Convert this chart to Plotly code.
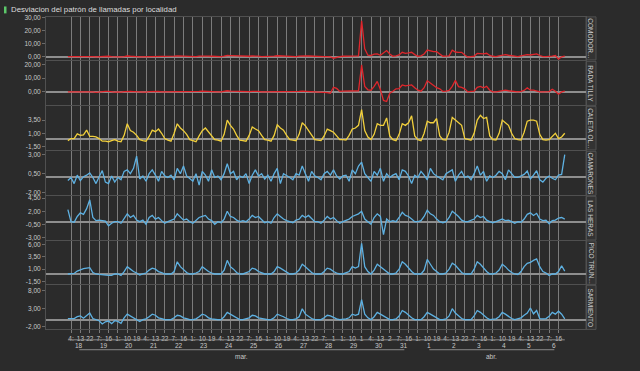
import plotly.graph_objects as go
import pandas as pd

# ---------------- data (3-hourly, 18 mar 01:00 -> 6 abr 22:00) ----------------
START = "2020-03-18 01:00"
N_POINTS = 160

comodoro = [
    0, 0, 0.2, 0.3, 0.2, 0.5, 0.3, 0,
    0, -0.2, 0, 0.3, 0.2, 0.2, 0, -0.2,
    -0.3, -0.3, 0, 0.4, 0.2, 0.3, 0, -0.2,
    -0.2, -0.2, 0.2, 0.3, 0.3, 0.2, 0, 0,
    0, -0.2, 0.3, 0.5, 0.4, 0.3, 0, 0,
    0, 0, 0.3, 0.5, 0.4, 0.3, 0.2, 0,
    0, 0, 0.3, 0.8, 0.7, 0.6, 0.3, 0,
    0, -0.2, 0.2, 0.4, 0.5, 0.3, 0, 0,
    0, 0, 0.3, 0.6, 0.5, 0.3, 0, 0,
    0, 0, 0.3, 0.6, 0.5, 0.4, 0.2, 0,
    0, 0, 0, 0, -0.3, -1.3, -0.5, 0,
    0.2, 0.2, 0.2, 0.3, 0.3, 0.5, 27.7, 6,
    1.0, 0.8, 1.8, 2, 1, 3, 4.6, 2,
    0.2, 0.5, 1.2, 3.3, 2.5, 2.8, 3.3, 1.5,
    0.2, 0.5, 2, 5, 4.2, 3.8, 3.8, 2,
    0.2, 0.3, 0.5, 5, 3.5, 3.3, 3.3, 1.2,
    -0.5, 0, 0.2, 2.5, 2.2, 2, 2.5, 0.8,
    0.2, 0, 0.5, 1.2, 1.5, 1, 0.8, 0.3,
    0, 0.5, 0.8, 1.5, 1.2, 1.8, 2, 0.8,
    0, 0, 0, 0.3, 0.8, -2, -0.2, 0.3,
]
rada_tilly = [
    0, 0, 0.3, 0.5, 0.3, 0.5, 0.2, 0,
    0, -0.3, 0, 0.5, 0.3, 0.3, 0, -0.2,
    0, -0.2, 0.2, 0.5, 0.3, 0.2, 0, 0,
    0, -0.2, 0.2, 0.4, 0.3, 0.3, 0, 0,
    0, 0, 0.3, 0.5, 0.4, 0.3, 0, 0,
    0, 0, 0.3, 0.6, 0.4, 0.3, 0.2, 0,
    0, 0, 0.4, 0.8, 0.6, 0.5, 0.2, 0,
    0, -0.2, 0.2, 0.4, 0.5, 0.3, 0, 0,
    0, 0, 0.3, 0.5, 0.4, 0.3, 0, 0,
    0, 0, 0.4, 0.6, 0.5, 0.4, 0.2, 0,
    0, 0, 0, -0.5, -1, 3.3, 2.5, 0.3,
    0.5, 0.5, 0.5, 0.5, 0.5, 0.8, 19.5, 4,
    1.5, 1.2, 4, 7.6, 1.7, -6.2, -7, -1,
    0.5, 2.2, 2.4, 5, 4.3, 4.5, 5, 3,
    1.2, 0.5, 3, 8, 6.4, 4.2, 3, 2.2,
    0.3, 0.5, 1, 4, 8.3, 3.8, 3.3, 2.2,
    0, 0.3, 0.5, 3.3, 4, 3, 4, 1.2,
    0, 0, 0.3, 1, 1.2, 0.8, 0.5, 0,
    0, 0.3, 1, 2.9, 1.2, 1.2, 0.5, 0,
    0, 0, 0.2, 1.9, 0.5, -1.7, 0, 0.5,
]
caleta = [
    -0.4, 0, 0, 0.9, 0.6, 0.7, 1.6, 0.4,
    0.4, 0.3, 0, -0.5, -0.5, -0.6, -0.4, -0.2,
    -0.5, -0.6, 0.6, 2.8, 1.5, 1.2, 0.6, -0.2,
    -0.4, -0.5, 0.4, 1.6, 1.3, 1.8, 1.0, 0.0,
    -0.3, -0.5, 1.0, 2.8, 2.0, 1.5, 0.8, -0.2,
    -0.4, -0.6, 0.5, 1.5, 2.0, 1.2, 0.6, -0.2,
    -0.3, -0.5, 0.8, 3.5, 2.5, 1.8, 0.6, -0.3,
    -0.4, -0.5, 0.6, 2.2, 1.8, 1.5, 0.6, -0.2,
    -0.3, -0.5, 0.6, 2.6, 2.0, 1.6, 0.6, -0.2,
    -0.3, -0.4, 0.8, 3.0, 2.4, 1.5, 0.6, -0.2,
    -0.3, -0.4, 0.5, 1.8, 1.5, 1.2, 0.5, -0.2,
    -0.2, -0.3, 0.6, 1.8, 2.0, 2.5, 5.5, 1.5,
    0.3, -0.2, 0.8, 2.8, 2.5, 2.5, 3.9, 0.5,
    -0.2, -0.4, 0.8, 2.8, 2.5, 3.0, 4.3, 0.5,
    -0.2, -0.4, 1.0, 3.3, 3.0, 3.0, 3.8, 0.5,
    -0.2, -0.3, 1.2, 4.0, 3.5, 3.0, 2.5, 0.0,
    -0.2, -0.3, 1.0, 3.5, 4.4, 3.8, 4.0, 0.5,
    -0.2, -0.3, 1.0, 3.5, 3.0, 2.5, 1.0, 0.0,
    -0.2, -0.3, 1.2, 3.3, 3.5, 3.5, 3.3, 0.8,
    -0.2, -0.3, -0.2, 0.4, 1.0, 0.0, 0.3, 1.0,
]
camarones = [
    -0.4, 0, -0.8, 0.3, -0.4, 0.1, 0.3, 0.6,
    0, -0.8, 0.1, 0.9, -0.6, -0.8, 0.2, -0.6,
    0, -0.3, 0.8, 1.0, 0.5, 1.2, 2.8, -0.2,
    0.2, -0.5, 0.5, 1.0, 0.3, -0.5, 0.8, 0.2,
    0, 0.3, -0.3, 1.2, 0.5, 1.5, 0.2, -0.2,
    -0.5, 0.5, -1.0, 0.8, 0.3, -0.5, 1.0, 0,
    0.2, -0.3, 0.5, 1.8, 0.5, 0.8, -0.3, 0.2,
    0, 0.5, -0.8, 0.3, 1.0, 0.2, 0.5, -0.2,
    0.3, -0.5, 0.5, 1.2, -0.8, 0.5, 0.3, 0,
    -0.3, 0.5, 0.3, 1.5, 0.5, -0.5, 0.8, 0.2,
    0, -0.3, 0.5, 0.8, 0.3, 1.0, 0.2, -0.2,
    0.2, 0.3, -0.5, 1.0, 0.5, 1.5, 2.0, 0.5,
    0, -0.5, 0.8, 0.3, 1.2, -0.5, 0.5, 0,
    0.3, 0.5, -0.3, 1.0, 0.8, 0.2, -0.8, 0.3,
    0, 0.8, 0.3, -0.3, 1.2, 0.5, 0.2, 0,
    -0.3, 0.5, 0.8, 1.0, -0.5, 0.3, 0.8, 0,
    0.2, -0.3, 0.5, 1.5, 0.3, 0.8, -0.5, 0.2,
    0, 0.3, 0.8, 0.5, -0.3, 1.0, 0.5, 0,
    0, 0.2, 0.4, 0.85, -0.2, 0.3, 0.9, -0.3,
    -0.6, -0.1, 0.2, -0.1, -0.3, 0.3, 0.4, 3.0,
]
las_heras = [
    2.3, 0, -0.1, 1.0, 1.7, 1.4, 2.5, 4.2,
    0.8, 0.2, 0.3, 0.2, 0.1, -0.8, -0.3, 0,
    0, -0.3, 0.5, 1.5, 0.8, 1.2, 0.3, 0,
    0.3, -0.5, 0.8, 1.2, 0.5, 0.8, 0.2, -0.3,
    0, 0.3, 0.5, 1.5, 0.8, 0.3, 0.5, 0,
    -0.3, 0.2, 0.8, 1.0, 1.2, 0.5, 0.2, -0.5,
    0, -0.2, 0.5, 2.0, 1.0, 0.8, 0.3, 0,
    0.2, 0, 0.5, 1.2, 0.8, 1.0, 0.3, -0.2,
    0, -0.3, 0.8, 1.5, 1.0, 0.5, 0.2, 0,
    -0.2, 0.3, 0.5, 1.2, 0.8, 1.2, 0.5, 0,
    0, -0.3, 0.3, 1.0, 0.5, 0.8, 0.2, -0.3,
    0, 0.2, 0.5, 1.0, 1.2, 1.5, 2.0, 0.5,
    0, -0.5, 0.8, 1.5, 1.0, -2.5, 0.5, 0,
    0.2, 0, 0.8, 1.8, 1.2, 1.0, 0.5, 0,
    0, 0.2, 1.0, 2.2, 1.5, 1.2, 0.5, 0,
    -0.2, 0, 0.8, 2.0, 1.5, 1.0, 0.3, 0,
    0, 0.2, 0.5, 1.2, 0.8, 1.0, 0.3, 0,
    -0.2, 0, 0.3, 0.5, 0.2, 0.3, 0, -0.3,
    0, -0.1, 0.5, 1.4, 1.7, 1.2, 1.6, 0.5,
    0.2, 0.3, -0.4, 0.2, 0.3, 0.7, 0.8, 0.5,
]
pico_truncado = [
    0, 0, 0.1, 0.6, 0.9, 1.1, 1.2, 1.3,
    0.3, 0, -0.1, -0.2, -0.2, -0.3, -0.3, 0,
    0, -0.3, 0.5, 1.5, 1.0, 0.5, 0.2, -0.2,
    0, 0.2, 0.8, 1.2, 1.0, 0.5, 0.3, 0,
    0, 0, 0.5, 2.5, 1.5, 0.8, 0.3, 0,
    0, 0.2, 0.5, 1.5, 1.0, 0.5, 0.2, 0,
    0, 0, 0.8, 2.8, 1.5, 1.0, 0.3, 0,
    0, 0.2, 0.5, 1.2, 1.0, 0.5, 0.3, 0,
    0, 0, 0.5, 1.5, 1.2, 0.8, 0.3, 0,
    0, 0.2, 0.8, 2.0, 1.5, 0.8, 0.3, 0,
    0, 0, 0.5, 1.2, 1.0, 0.5, 0.2, 0,
    0, 0.2, 0.5, 1.5, 1.2, 1.5, 6.3, 1.5,
    0.5, 0, 0.8, 2.0, 1.5, 1.0, 0.5, 0,
    0, 0.2, 1.0, 2.5, 2.0, 1.2, 0.5, 0,
    0, 0, 0.8, 3.0, 2.0, 1.0, 0.5, 0,
    0, 0.2, 1.0, 2.2, 1.8, 1.0, 0.3, 0,
    0, 0, 1.0, 2.5, 2.0, 1.2, 0.5, 0,
    0, 0.2, 0.8, 2.0, 1.5, 0.8, 0.3, 0,
    -0.1, 0.5, 1.5, 2.2, 2.4, 2.8, 3.1, 1.5,
    0.5, 0.2, -0.3, 0, 0, 0.5, 1.7, 0.6,
]
sarmiento = [
    0.3, 0.2, 0.3, 0.8, 1.0, 0.4, 1.0, 1.8,
    0.3, 0, -0.3, -1.2, -0.6, -0.4, -1.1, -0.3,
    -0.5, -1.0, 0.5, 1.5, 1.0, 0.5, 0.2, -0.5,
    0, 0.2, 0.8, 1.5, 1.2, 0.5, 0.3, 0,
    0, 0, 0.5, 1.2, 1.0, 0.5, 0.3, 0,
    0, 0.2, 0.8, 1.5, 1.2, 0.5, 0.2, 0,
    0, 0, 0.8, 2.0, 1.5, 0.8, 0.3, 0,
    0, 0.2, 0.5, 1.2, 1.0, 0.5, 0.3, 0,
    0, 0, 0.5, 1.5, 1.2, 0.8, 0.3, 0,
    0, 0.2, 0.8, 3.0, 1.5, 0.8, 0.3, 0,
    0, 0, 0.5, 1.2, 1.0, 0.5, 0.2, 0,
    0, 0.2, 0.5, 1.5, 1.2, 1.5, 5.5, 1.5,
    0.5, 0, 0.8, 2.0, 1.5, 1.0, 0.5, 0,
    0, 0.2, 1.0, 2.5, 2.0, 1.2, 0.5, 0,
    0, 0, 0.8, 2.0, 1.5, 1.0, 0.5, 0,
    0, 0.2, 1.0, 3.0, 1.8, 1.0, 0.3, 0,
    0, 0, 1.0, 2.5, 2.0, 1.2, 0.5, 0,
    0, 0.2, 0.8, 2.0, 1.5, 0.8, 0.3, 0,
    0.2, 0.5, 1.2, 1.8, 3.2, 1.6, 2.5, 0.3,
    0.2, 0.3, 0.9, 2.0, 1.5, 2.3, 1.5, 0.2,
]

localidades = ["COMODOR...", "RADA TILLY", "CALETA OL...", "CAMARONES",
               "LAS HERAS", "PICO TRUN...", "SARMIENTO"]
series = [comodoro, rada_tilly, caleta, camarones, las_heras, pico_truncado, sarmiento]
colores = ["#e0262c", "#e0262c", "#f2d03c", "#5eb1e2", "#5eb1e2", "#5eb1e2", "#5eb1e2"]

y_ticks = [[0, 10, 20, 30], [0, 10, 20], [-1.5, 1, 3.5], [-2, 0.5, 3],
           [-3, -0.5, 2, 4.5], [-1.5, 1, 3.5, 6], [-2, 3, 8]]
y_ranges = [[-2.6, 30.8], [-9.8, 22.1], [-2.15, 6.1], [-2.35, 3.42],
            [-3.5, 4.85], [-2.15, 6.8], [-2.7, 9.4]]

# hour tick labels (every 9 hours, starting 18 mar 04:00)
TICK_START = "2020-03-18 04:00"
hour_labels = ["4:", "13", "22", "7:", "16", "1:", "10", "19"] * 3 + \
              ["4:", "13", "22", "7:", "1", "1:", "10", "1"] + \
              ["4:", "13", "2", "7:", "16", "1:", "10", "19"] + \
              ["4:", "13", "22", "7:", "16", "1:", "10", "19"] + \
              ["4:", "13", "22", "7:", "16"]
dias = ["18", "19", "20", "21", "22", "23", "24", "25", "26", "27", "28", "29",
        "30", "31", "1", "2", "3", "4", "5", "6"]
meses = ["mar.", "abr."]
dias_por_mes = [14, 6]

titulo = "Desviacion del patrón de llamadas por localidad"

# ---------------- figure ----------------
W, H = 640, 371
times = pd.date_range(START, periods=N_POINTS, freq="3h")
tick_times = pd.date_range(TICK_START, periods=len(hour_labels), freq="9h")
day_noons = pd.date_range("2020-03-18 12:00", periods=len(dias), freq="24h")

X0, X1 = 46, 586
panels_px = [(14, 57.5), (59, 103.5), (104.5, 148.5), (150, 194.5),
             (195.5, 239.5), (240.5, 284.5), (285.5, 330)]

def py(v):
    return 1 - v / H

def pxx(v):
    return v / W

BG = "#2b2b2b"
FONT = "Arial, Liberation Sans, sans-serif"
TXT = "#c8c8c8"
fig = go.Figure()
x_range = [pd.Timestamp("2020-03-17 04:00"), pd.Timestamp("2020-04-07 18:24")]

layout = dict(
    width=W, height=H, margin=dict(l=0, r=0, t=0, b=0),
    paper_bgcolor=BG, plot_bgcolor=BG, showlegend=False,
    font=dict(family=FONT, color=TXT, size=7),
    separators=",.",
)
shapes = []
annotations = []
for i, (vals, name, col) in enumerate(zip(series, localidades, colores)):
    k = i + 1
    xa = "x" if k == 1 else f"x{k}"
    ya = "y" if k == 1 else f"y{k}"
    fig.add_trace(go.Scatter(x=times, y=vals, mode="lines", xaxis=xa, yaxis=ya,
                             line=dict(color=col, width=1.3), hoverinfo="skip"))
    top, bot = panels_px[i]
    xdef = dict(
        domain=[pxx(X0), pxx(X1)], anchor=ya, range=x_range,
        tickvals=tick_times, ticktext=hour_labels, tickangle=0,
        showticklabels=(k == 7), ticks="outside" if k == 7 else "", ticklen=3,
        tickcolor="#7a7a7a", tickfont=dict(size=6.5, color=TXT),
        showgrid=True, gridcolor="#7c7c7c", gridwidth=1,
        showline=True, linecolor="#505050", mirror=True, zeroline=False,
    )
    if k > 1:
        xdef["matches"] = "x"
    layout[f"xaxis{'' if k == 1 else k}"] = xdef
    layout[f"yaxis{'' if k == 1 else k}"] = dict(
        domain=[py(bot), py(top)], anchor=xa, range=y_ranges[i],
        tickvals=y_ticks[i], ticktext=[f"{v:.2f}".replace(".", ",") for v in y_ticks[i]],
        ticks="outside", ticklen=3, tickcolor="#6a6a6a",
        tickfont=dict(size=6.5, color=TXT),
        showgrid=False, zeroline=True, zerolinecolor="#8e8e8e", zerolinewidth=2,
        showline=True, linecolor="#505050", mirror=True,
    )
    # right header cell
    shapes.append(dict(type="rect", xref="paper", yref="paper",
                       x0=pxx(X1), x1=pxx(596), y0=py(bot), y1=py(top),
                       fillcolor="#333333", line=dict(color="#505050", width=1),
                       layer="below"))
    annotations.append(dict(text=name, xref="paper", yref="paper",
                            x=pxx(591), y=py((top + bot) / 2), textangle=90,
                            showarrow=False, font=dict(size=6.5, color=TXT),
                            xanchor="center", yanchor="middle"))

# hour axis underline, day labels, month brackets
shapes.append(dict(type="line", xref="x7", yref="paper", x0=times[0], x1=times[-1],
                   y0=py(340.5), y1=py(340.5), line=dict(color="#8a8a8a", width=1)))
for d, t in zip(dias, day_noons):
    annotations.append(dict(text=d, xref="x7", yref="paper", x=t, y=py(346),
                            showarrow=False, font=dict(size=6.5, color=TXT),
                            xanchor="center", yanchor="middle"))
start = 0
for m, n in zip(meses, dias_por_mes):
    a, b = day_noons[start], day_noons[start + n - 1]
    shapes.append(dict(type="line", xref="x7", yref="paper", x0=a, x1=b,
                       y0=py(350.5), y1=py(350.5), line=dict(color="#8a8a8a", width=1)))
    annotations.append(dict(text=m, xref="x7", yref="paper", x=a + (b - a) / 2, y=py(357),
                            showarrow=False, font=dict(size=6.5, color=TXT),
                            xanchor="center", yanchor="middle"))
    start += n

# title with green marker
shapes.append(dict(type="rect", xref="paper", yref="paper", x0=pxx(4), x1=pxx(6.5),
                   y0=py(10.5), y1=py(3.5), fillcolor="#5cc86a", line=dict(width=0)))
annotations.append(dict(text=titulo, xref="paper", yref="paper", x=pxx(9), y=py(7),
                        showarrow=False, xanchor="left", yanchor="middle",
                        font=dict(size=7.8, color="#dcdcdc")))

layout["shapes"] = shapes
layout["annotations"] = annotations
fig.update_layout(**layout)
fig.write_html("out.html", config={"displayModeBar": False},
               post_script="document.body.style.margin='0';document.body.style.overflow='hidden';")
